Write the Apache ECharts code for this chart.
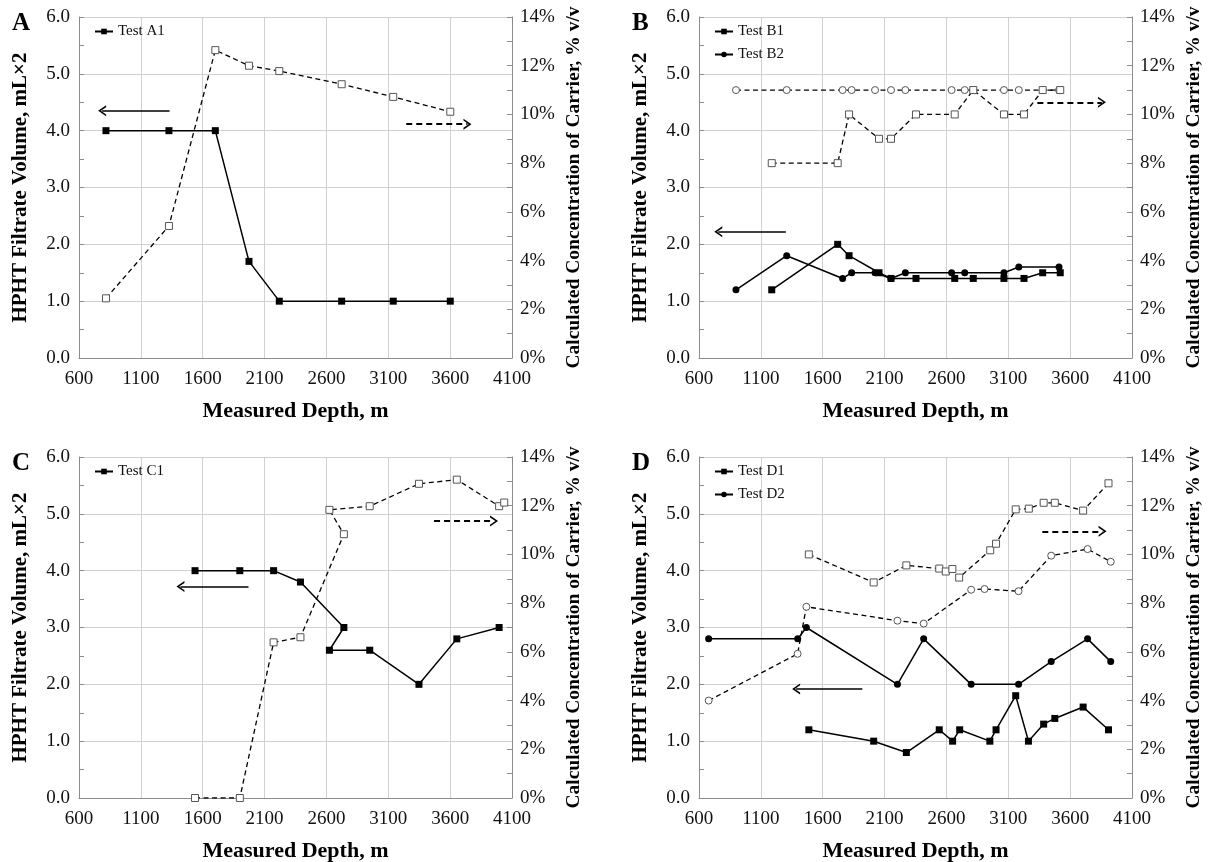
<!DOCTYPE html>
<html>
<head>
<meta charset="utf-8">
<title>HPHT filtrate volume and carrier concentration vs depth</title>
<script src="https://cdn.jsdelivr.net/npm/echarts@6/dist/echarts.min.js"></script>
<style>
	html, body { margin: 0; padding: 0; background: #fff; }
	#chart { width: 1210px; height: 862px; }
</style>
</head>
<body>
<div id="chart"></div>
<script>
// values: depth in m, filtrate in mL x2, carrier in % v/v
let depthA1 = [818, 1327, 1702, 1974, 2219, 2723, 3140, 3601];
let filtrateA1 = [4.0, 4.0, 4.0, 1.7, 1.0, 1.0, 1.0, 1.0];
let carrierA1 = [2.45, 5.42, 12.64, 12.0, 11.78, 11.24, 10.72, 10.11];

let depthB1 = [1188, 1721, 1813, 2055, 2152, 2354, 2667, 2817, 3065, 3227, 3378, 3520];
let filtrateB1 = [1.2, 2.0, 1.8, 1.5, 1.4, 1.4, 1.4, 1.4, 1.4, 1.4, 1.5, 1.5];
let carrierB1 = [8, 8, 10, 9, 9, 10, 10, 11, 10, 10, 11, 11];
let depthB2 = [899, 1309, 1761, 1834, 2023, 2152, 2268, 2642, 2748, 3065, 3185, 3510];
let filtrateB2 = [1.2, 1.8, 1.4, 1.5, 1.5, 1.4, 1.5, 1.5, 1.5, 1.5, 1.6, 1.6];
let carrierB2 = [11, 11, 11, 11, 11, 11, 11, 11, 11, 11, 11, 11];

let depthC1 = [1538, 1900, 2173, 2390, 2741, 2624, 2950, 3348, 3654, 3996];
let filtrateC1 = [4.0, 4.0, 4.0, 3.8, 3.0, 2.6, 2.6, 2.0, 2.8, 3.0];
let carrierDepthC1 = [1538, 1900, 2173, 2390, 2741, 2624, 2950, 3348, 3654, 3996, 4037];
let carrierC1 = [0, 0, 6.39, 6.6, 10.83, 11.83, 11.98, 12.9, 13.07, 11.98, 12.13];

let depthD1 = [1488, 2012, 2276, 2542, 2650, 2707, 2951, 3001, 3160, 3263, 3386, 3476, 3705, 3910];
let filtrateD1 = [1.2, 1.0, 0.8, 1.2, 1.0, 1.2, 1.0, 1.2, 1.8, 1.0, 1.3, 1.4, 1.6, 1.2];
let carrierDepthD1 = [1488, 2012, 2276, 2542, 2595, 2648, 2703, 2954, 3001, 3160, 3266, 3386, 3476, 3705, 3910];
let carrierD1 = [10.0, 8.85, 9.55, 9.42, 9.3, 9.4, 9.05, 10.17, 10.44, 11.85, 11.88, 12.12, 12.12, 11.8, 12.92];
let depthD2 = [678, 1398, 1468, 2204, 2416, 2800, 3183, 3447, 3741, 3928];
let filtrateD2 = [2.8, 2.8, 3.0, 2.0, 2.8, 2.0, 2.0, 2.4, 2.8, 2.4];
let carrierDepthD2 = [678, 1397, 1468, 2204, 2416, 2800, 2908, 3183, 3447, 3741, 3928];
let carrierD2 = [4.0, 5.92, 7.85, 7.28, 7.16, 8.55, 8.58, 8.49, 9.95, 10.22, 9.7];

// arrows telling which axis a curve belongs to: [from depth, to depth, level]
let leftArrows = [[1332, 787, 4.35], [1302, 756, 2.22], [1970, 1420, 3.72], [1920, 1385, 1.92]];
let rightArrows = [[3245, 3740, 9.6], [3335, 3857, 10.5], [3470, 3955, 11.37], [3375, 3862, 10.95]];

let panelNames = ['A', 'B', 'C', 'D'];
let gridPos = [[79, 17], [699, 17], [79, 457], [699, 457]];
let fontName = 'Liberation Serif';
let chevron = 'path://M0,10 L5,0 L10,10 L8.3,10 L5,3.4 L1.7,10 Z';

function pairs(xs, ys) {
	let out = [];
	for (let k = 0; k < xs.length; k++) {
		out.push([xs[k], ys[k]]);
	}
	return out;
}

function arrow(a, dashed) {
	return {
		silent: true,
		animation: false,
		symbol: ['none', chevron],
		symbolSize: [11, 8],
		label: { show: false },
		emphasis: { disabled: true },
		lineStyle: { color: '#000', width: dashed ? 2 : 1.5, type: dashed ? [6, 4] : 'solid', opacity: 1 },
		data: [[{ coord: [a[0], a[2]] }, { coord: [a[1], a[2]] }]]
	};
}

function filtrateSeries(name, i, xs, ys, symbol) {
	return {
		name: name,
		type: 'line',
		xAxisIndex: i,
		yAxisIndex: 2 * i,
		symbol: symbol,
		symbolSize: 7,
		z: 4,
		itemStyle: { color: '#000' },
		lineStyle: { color: '#000', width: 1.5 },
		emphasis: { disabled: true },
		data: pairs(xs, ys)
	};
}

function carrierSeries(name, i, xs, ys, symbol) {
	return {
		name: name,
		type: 'line',
		xAxisIndex: i,
		yAxisIndex: 2 * i + 1,
		symbol: symbol,
		symbolSize: 7,
		z: 3,
		itemStyle: { color: '#fff', borderColor: '#555', borderWidth: 1 },
		lineStyle: { color: '#000', width: 1.3, type: [5, 3.5] },
		emphasis: { disabled: true },
		data: pairs(xs, ys)
	};
}

let grids = [];
let xAxes = [];
let yAxes = [];
let titles = [];
let legends = [];
for (let i = 0; i < 4; i++) {
	grids.push({ left: gridPos[i][0], top: gridPos[i][1], width: 433, height: 341, outerBoundsMode: 'none' });
	titles.push({
		text: panelNames[i],
		left: gridPos[i][0] - 72,
		top: gridPos[i][1] - 11,
		textStyle: { fontFamily: fontName, fontWeight: 'bold', fontSize: 25, color: '#000' }
	});
	xAxes.push({
		type: 'value',
		gridIndex: i,
		min: 600,
		max: 4100,
		interval: 500,
		name: 'Measured Depth, m',
		nameLocation: 'middle',
		nameGap: 42,
		nameTextStyle: { fontFamily: fontName, fontWeight: 'bold', fontSize: 22, color: '#000' },
		axisLine: { show: true, lineStyle: { color: '#8c8c8c', width: 1 } },
		axisTick: { show: false },
		axisLabel: {
			fontFamily: fontName, fontSize: 19, color: '#111', margin: 12,
			formatter: function(v) { return String(v); }
		},
		splitLine: { show: true, lineStyle: { color: '#d0d0d0', width: 1 } }
	});
	yAxes.push({
		type: 'value',
		gridIndex: i,
		position: 'left',
		min: 0,
		max: 6,
		interval: 1,
		name: 'HPHT Filtrate Volume, mL×2',
		nameLocation: 'middle',
		nameGap: 48,
		nameTextStyle: { fontFamily: fontName, fontWeight: 'bold', fontSize: 21, color: '#000' },
		axisLine: { show: true, lineStyle: { color: '#8c8c8c', width: 1 } },
		axisTick: { show: true, inside: true, length: 5, lineStyle: { color: '#8c8c8c' } },
		minorTick: { show: true, splitNumber: 2, length: 5, lineStyle: { color: '#8c8c8c' } },
		axisLabel: {
			fontFamily: fontName, fontSize: 19, color: '#111', margin: 9,
			formatter: function(v) { return v.toFixed(1); }
		},
		splitLine: { show: true, lineStyle: { color: '#d0d0d0', width: 1 } }
	});
	yAxes.push({
		type: 'value',
		gridIndex: i,
		position: 'right',
		min: 0,
		max: 14,
		interval: 2,
		name: 'Calculated Concentration of Carrier, % v/v',
		nameLocation: 'middle',
		nameGap: 52,
		nameTextStyle: { fontFamily: fontName, fontWeight: 'bold', fontSize: 19.5, color: '#000' },
		axisLine: { show: true, lineStyle: { color: '#8c8c8c', width: 1 } },
		axisTick: { show: true, inside: true, length: 5, lineStyle: { color: '#8c8c8c' } },
		minorTick: { show: true, splitNumber: 2, length: 5, lineStyle: { color: '#8c8c8c' } },
		axisLabel: { fontFamily: fontName, fontSize: 19, color: '#111', margin: 8, formatter: '{value}%' },
		splitLine: { show: false }
	});
}

let legendNames = [['Test A1'], ['Test B1', 'Test B2'], ['Test C1'], ['Test D1', 'Test D2']];
for (let i = 0; i < 4; i++) {
	legends.push({
		data: legendNames[i],
		orient: 'vertical',
		left: gridPos[i][0] + 15,
		top: gridPos[i][1] + 7,
		padding: 0,
		itemGap: 8,
		itemWidth: 18,
		itemHeight: 7,
		selectedMode: false,
		textStyle: { fontFamily: fontName, fontSize: 15, color: '#111' }
	});
}

let series = [
	carrierSeries('Carrier A1', 0, depthA1, carrierA1, 'rect'),
	filtrateSeries('Test A1', 0, depthA1, filtrateA1, 'rect'),

	carrierSeries('Carrier B2', 1, depthB2, carrierB2, 'circle'),
	carrierSeries('Carrier B1', 1, depthB1, carrierB1, 'rect'),
	filtrateSeries('Test B1', 1, depthB1, filtrateB1, 'rect'),
	filtrateSeries('Test B2', 1, depthB2, filtrateB2, 'circle'),

	carrierSeries('Carrier C1', 2, carrierDepthC1, carrierC1, 'rect'),
	filtrateSeries('Test C1', 2, depthC1, filtrateC1, 'rect'),

	carrierSeries('Carrier D1', 3, carrierDepthD1, carrierD1, 'rect'),
	carrierSeries('Carrier D2', 3, carrierDepthD2, carrierD2, 'circle'),
	filtrateSeries('Test D1', 3, depthD1, filtrateD1, 'rect'),
	filtrateSeries('Test D2', 3, depthD2, filtrateD2, 'circle')
];

// attach the axis arrows to the first filtrate / carrier series of each panel
let arrowHosts = [[1, 0], [4, 3], [7, 6], [10, 8]];
for (let i = 0; i < 4; i++) {
	series[arrowHosts[i][0]].markLine = arrow(leftArrows[i], false);
	series[arrowHosts[i][1]].markLine = arrow(rightArrows[i], true);
}

let option = {
	animation: false,
	backgroundColor: '#fff',
	title: titles,
	legend: legends,
	grid: grids,
	xAxis: xAxes,
	yAxis: yAxes,
	series: series
};

let myChart = echarts.init(document.getElementById('chart'));
myChart.setOption(option);
</script>
</body>
</html>
